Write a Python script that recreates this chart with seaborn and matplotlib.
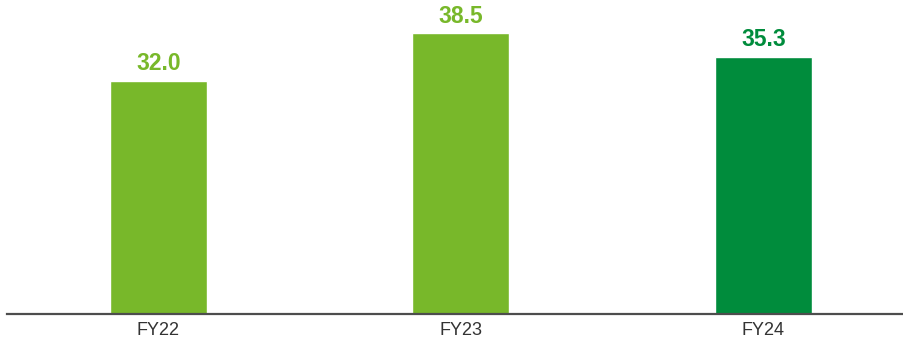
import matplotlib
matplotlib.use("Agg")
import matplotlib.pyplot as plt
import seaborn as sns
import pandas as pd

categories = ["FY22", "FY23", "FY24"]
values = [32.0, 38.5, 35.3]
colors = ["#78B82A", "#78B82A", "#008C3C"]

sns.set_theme(style="white")
plt.rcParams['font.family'] = ['Liberation Sans', 'DejaVu Sans']

df = pd.DataFrame({"cat": categories, "val": values})

fig = plt.figure(figsize=(9.04, 3.44), dpi=100)
ax = fig.add_axes([7/904, 30.3/344, 1 - 7/904, 313.7/344])
sns.barplot(data=df, x="cat", y="val", hue="cat", palette=colors, width=0.32,
            legend=False, ax=ax, saturation=1)
ax.set_xlim(-0.5, 2.465)
ax.set_ylim(0, 313.7/7.28)
for i, (v, c) in enumerate(zip(values, colors)):
    ax.annotate(f"{v:.1f}", (i, v), xytext=(0, 4), textcoords="offset points",
                ha="center", va="bottom", fontsize=16.5, fontweight="bold", color=c)
for s in ["top", "right", "left"]:
    ax.spines[s].set_visible(False)
ax.spines["bottom"].set_color("#4d4d4d")
ax.spines["bottom"].set_linewidth(1.6)
ax.set_yticks([])
ax.set_xlabel("")
ax.set_ylabel("")
ax.tick_params(axis="x", length=0, pad=6, labelsize=13, labelcolor="#333333")
fig.savefig("out.png", dpi=100)
